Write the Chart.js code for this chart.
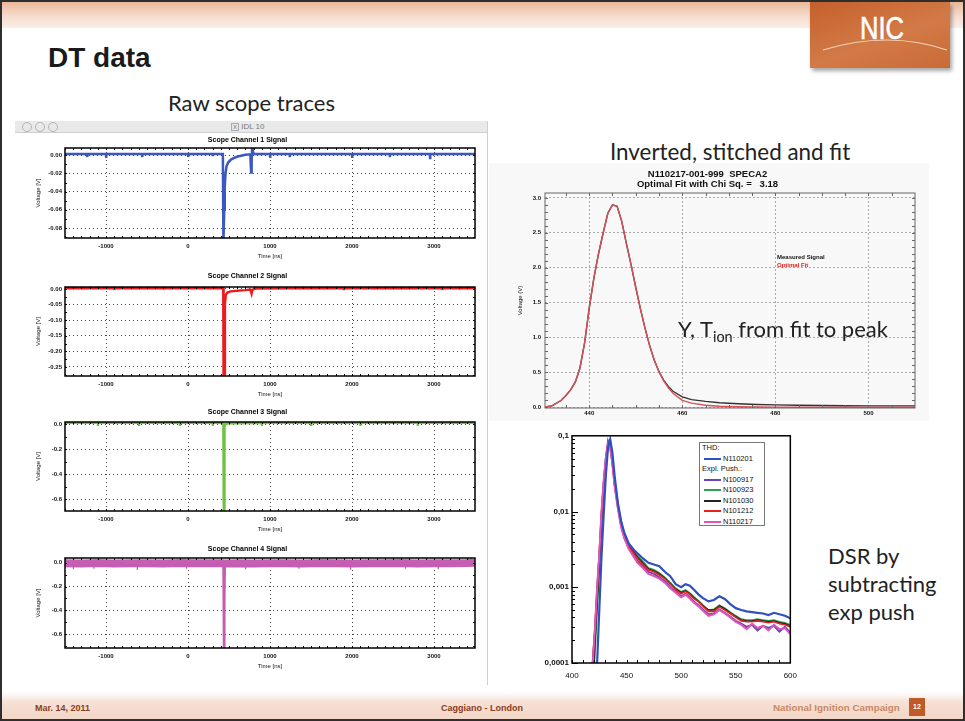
<!DOCTYPE html>
<html>
<head>
<meta charset="utf-8">
<script src="https://cdn.jsdelivr.net/npm/chart.js@4.4.1/dist/chart.umd.min.js"></script>
<style>
  html, body { margin: 0; padding: 0; background: #fff; width: 965px; height: 721px; overflow: hidden; }
  body { position: relative; font-family: "Liberation Sans", Arial, sans-serif; }
  .abs { position: absolute; }
  canvas { position: absolute; }
  .cal { font-family: Lato, "Open Sans", sans-serif; color: #222; white-space: nowrap; }
  .leg { font: 7.5px "Liberation Sans", Arial, sans-serif; color: #111; line-height: 10.5px; }
  .leg span.ln { display: inline-block; width: 17px; height: 2px; vertical-align: middle; margin: 0 2px 0 2px; }
  .foot { font: bold 9px/10px "Liberation Sans", Arial, sans-serif; color: #8a3c20; white-space: nowrap; }
</style>
</head>
<body>
<!-- slide decoration -->
<div class="abs" style="left:0;top:0;width:965px;height:28px;background:linear-gradient(#e8b394,#f6ddcf 60%,#fbeee7)"></div>
<div class="abs" style="left:0;top:692px;width:965px;height:29px;background:linear-gradient(#fff,#f6e0d4 35%,#f2d5c6)"></div>
<div class="abs" style="left:810px;top:2px;width:140px;height:66px;background:linear-gradient(160deg,#c5602b,#d27a47 55%,#c96a36);box-shadow:2px 3px 4px rgba(0,0,0,0.35)">
  <div class="abs" style="left:50px;top:10px;font:32px/32px 'Liberation Sans',Arial;color:#fff;transform:scaleX(0.8);transform-origin:left;-webkit-text-stroke:0.6px #fff">NIC</div>
  <svg class="abs" style="left:0;top:0" width="140" height="66"><path d="M13 48 Q78 28 137 48" stroke="#f6d2b8" stroke-width="1.2" fill="none"/></svg>
</div>

<div class="abs" style="left:48px;top:44px;font:bold 28px/28px 'Liberation Sans',Arial;color:#1a1a1a">DT data</div>
<div class="abs cal" style="left:168px;top:90px;font-size:22px;line-height:26px">Raw scope traces</div>
<div class="abs cal" style="left:610px;top:139px;font-size:22.4px;line-height:26px">Inverted, stitched and fit</div>
<div class="abs cal" style="left:828px;top:542px;font-size:22px;line-height:28px">DSR by<br>subtracting<br>exp push</div>

<!-- IDL window chrome -->
<div class="abs" style="left:15px;top:121px;width:472px;height:11px;background:#e9e9e9;border-bottom:1px solid #cfcfcf"></div>
<div class="abs" style="left:22px;top:122px;width:8px;height:8px;border:1px solid #b5b5b5;border-radius:50%"></div>
<div class="abs" style="left:35px;top:122px;width:8px;height:8px;border:1px solid #b5b5b5;border-radius:50%"></div>
<div class="abs" style="left:48px;top:122px;width:8px;height:8px;border:1px solid #b5b5b5;border-radius:50%"></div>
<div class="abs" style="left:231px;top:121px;font:8px/11px 'Liberation Sans',Arial;color:#777"><span style="border:1px solid #aaa;font-size:6px;padding:0 1px">X</span> IDL 10</div>
<div class="abs" style="left:487px;top:121px;width:1px;height:564px;background:#cfcfcf"></div>

<canvas id="ch1" width="462" height="126" style="left:20px;top:136px"></canvas>
<canvas id="ch2" width="462" height="128" style="left:20px;top:272px"></canvas>
<canvas id="ch3" width="462" height="127" style="left:20px;top:408px"></canvas>
<canvas id="ch4" width="462" height="127" style="left:20px;top:545px"></canvas>

<div class="abs" style="left:489px;top:163px;width:440px;height:258px;background:#f8f8f8"></div>
<canvas id="fit" width="425" height="252" style="left:500px;top:168px"></canvas>
<div class="abs" style="left:777px;top:253px;font:bold 6px/8px 'Liberation Sans',Arial;color:#111">Measured Signal<br><span style="color:#e02020">Optimal Fit</span></div>
<div class="abs cal" style="left:678px;top:316px;font-size:22px;line-height:26px">Y, T<sub style="font-size:14.5px">ion</sub> from fit to peak</div>

<canvas id="dsr" width="280" height="262" style="left:525px;top:428px"></canvas>
<div class="abs leg" style="left:699px;top:442px;width:66px;height:84px;background:#fff;border:1px solid #777;padding-left:2px;box-sizing:border-box">
  THD:<br>
  <span class="ln" style="background:#3050c0"></span>N110201<br>
  Expl. Push.:<br>
  <span class="ln" style="background:#6a44b8"></span>N100917<br>
  <span class="ln" style="background:#2ea050"></span>N100923<br>
  <span class="ln" style="background:#222"></span>N101030<br>
  <span class="ln" style="background:#e82020"></span>N101212<br>
  <span class="ln" style="background:#e055b5"></span>N110217
</div>

<!-- footer -->
<div class="abs foot" style="left:35px;top:703px">Mar. 14, 2011</div>
<div class="abs foot" style="left:441px;top:703px">Caggiano - London</div>
<div class="abs foot" style="left:773px;top:703px;color:#c98a66;font-size:9.8px">National Ignition Campaign</div>
<div class="abs" style="left:909px;top:698px;width:16px;height:18px;background:#c05a28;color:#fff;font:bold 7px/18px 'Liberation Sans',Arial;text-align:center">12</div>

<div class="abs" style="left:0;top:0;width:965px;height:721px;border:2px solid #2e2e2e;box-sizing:border-box;pointer-events:none"></div>

<script>
// ---- scope traces (time in ns, voltage in V) ----
const scopeXTicks = [-1000, 0, 1000, 2000, 3000];

const ch1Time = [-1500, -1230, -1228, -1226, -1000, -998, -996, -560, -558, -556, 0, 2, 4, 300, 302, 304,
  425, 432, 436, 442, 448, 458, 470, 490, 520, 560, 620, 700, 760, 770, 776, 782, 792, 810,
  1000, 1002, 1004, 1240, 1242, 1244, 2000, 2002, 2004, 2460, 2462, 2464, 2950, 2952, 2954, 3500];
const ch1Volt = [0.0015, 0.0015, -0.002, 0.0015, 0.0015, -0.003, 0.0015, 0.0015, -0.002, 0.0015, 0.0015, -0.002, 0.0015, 0.0015, -0.001, 0.0015,
  0.0015, -0.095, -0.095, -0.06, -0.035, -0.02, -0.012, -0.008, -0.005, -0.003, -0.001, 0.0005, 0.001, -0.019, -0.008, 0.009, 0.003, 0.0015,
  0.0015, -0.003, 0.0015, 0.0015, -0.002, 0.0015, 0.0015, -0.003, 0.0015, 0.0015, -0.002, 0.0015, 0.0015, -0.003, 0.0015, 0.0015];
const ch1YTicks = [0, -0.02, -0.04, -0.06, -0.08];

const ch2Time = [-1500, -1300, -1298, -1296, -900, -898, -896, -300, -298, -296, 200, 202, 204,
  430, 434, 444, 450, 460, 480, 520, 600, 700, 760, 775, 785, 820,
  1300, 1302, 1304, 1900, 1902, 1904, 2500, 2502, 2504, 3100, 3102, 3104, 3500];
const ch2Volt = [0.002, 0.002, 0.007, 0.002, 0.002, -0.004, 0.002, 0.002, 0.007, 0.002, 0.002, 0.007, 0.002,
  0.002, -0.29, -0.29, -0.05, -0.02, -0.012, -0.008, -0.006, -0.004, -0.002, -0.015, -0.003, 0.001,
  0.002, 0.007, 0.002, 0.002, -0.004, 0.002, 0.002, 0.007, 0.002, 0.002, -0.004, 0.002, 0.002];
const ch2YTicks = [0, -0.05, -0.10, -0.15, -0.20, -0.25];

const ch3Time = [-1500, -1100, -1098, -1096, -600, -598, -596, -100, -98, -96, 300, 302, 304,
  430, 435, 441, 444, 448, 460, 500, 900, 902, 904, 1500, 1502, 1504, 2100, 2102, 2104, 2800, 2802, 2804, 3500];
const ch3Volt = [0.008, 0.008, -0.015, 0.008, 0.008, -0.015, 0.008, 0.008, -0.015, 0.008, 0.008, -0.015, 0.008,
  0.008, -0.72, -0.72, -0.45, -0.02, 0.0, 0.005, 0.008, -0.015, 0.008, 0.008, -0.015, 0.008, 0.008, -0.015, 0.008, 0.008, -0.015, 0.008, 0.008];
const ch3YTicks = [0, -0.2, -0.4, -0.6];

const ch4Time = [-1500, -1300, -1100, -900, -700, -500, -300, -100, 100, 300, 420, 460, 600, 800, 1000,
  1200, 1400, 1600, 1800, 2000, 2200, 2400, 2600, 2800, 3000, 3200, 3400, 3500];
const ch4Volt = [-0.004, -0.006, -0.003, -0.007, -0.005, -0.004, -0.006, -0.003, -0.005, -0.004, -0.005, -0.006, -0.004, -0.006, -0.005,
  -0.004, -0.006, -0.003, -0.005, -0.006, -0.004, -0.005, -0.003, -0.006, -0.005, -0.004, -0.003, 0.0];
const ch4NoiseTime = [-1400, -1398, -1396, -1150, -1148, -1146, -620, -618, -616, -20, -18, -16, 700, 702, 704,
  1350, 1352, 1354, 1980, 1982, 1984, 2650, 2652, 2654, 3050, 3052, 3054, 3450, 3452, 3454];
const ch4NoiseVolt = [-0.02, -0.055, -0.02, -0.02, -0.05, -0.02, -0.02, -0.06, -0.02, -0.02, -0.05, -0.02, -0.02, -0.055, -0.02,
  -0.02, -0.05, -0.02, -0.02, -0.06, -0.02, -0.02, -0.05, -0.02, -0.02, -0.055, -0.02, 0.01, 0.045, 0.01];
const ch4SpikeTime = [430, 436, 442, 446, 452];
const ch4SpikeVolt = [-0.01, -0.73, -0.73, -0.3, -0.01];
const ch4YTicks = [0, -0.2, -0.4, -0.6];

// ---- fitted spectrum (time in ns, voltage in V) ----
const fitTime = [430, 432, 434, 435, 436, 437, 438, 439, 440, 441, 442, 443, 444, 445, 446, 447, 448, 449, 450,
  451, 452, 453, 454, 455, 456, 457, 458, 460, 462, 465, 468, 472, 476, 480, 485, 490, 495, 500, 505, 510];
const measuredVolt = [0.0, 0.02, 0.1, 0.17, 0.25, 0.36, 0.56, 0.92, 1.42, 1.85, 2.2, 2.5, 2.78, 2.9, 2.88, 2.66, 2.34, 2.04, 1.72,
  1.41, 1.13, 0.88, 0.67, 0.51, 0.39, 0.3, 0.23, 0.15, 0.11, 0.085, 0.065, 0.05, 0.04, 0.035, 0.03, 0.025, 0.022, 0.02, 0.02, 0.02];
const fitVolt = [0.0, 0.02, 0.1, 0.17, 0.25, 0.36, 0.56, 0.92, 1.42, 1.85, 2.2, 2.5, 2.78, 2.9, 2.88, 2.66, 2.34, 2.04, 1.72,
  1.41, 1.13, 0.88, 0.67, 0.51, 0.38, 0.28, 0.2, 0.1, 0.06, 0.03, 0.015, 0.008, 0.004, 0.002, 0.001, 0.0, 0.0, 0.0, 0.0, 0.0];
const fitYTicks = [0, 0.5, 1.0, 1.5, 2.0, 2.5, 3.0];
const fitXTicks = [440, 460, 480, 500];

// ---- DSR comparison, log scale ----
const dsrTime = [417, 419, 421, 423, 425, 427, 429, 431, 433, 435,
  437, 439, 442, 445, 448, 452, 456, 460, 465, 470,
  475, 480, 485, 490, 495, 500, 504, 508, 512, 516,
  520, 525, 530, 535, 540, 545, 550, 555, 560, 565,
  570, 575, 580, 585, 590, 595, 600];
const n110201 = [0.00001, 0.00002, 0.00004, 0.0001, 0.0005, 0.0025, 0.009, 0.03, 0.07, 0.09,
  0.06, 0.03, 0.013, 0.0075, 0.0052, 0.0038, 0.0032, 0.0028, 0.0024, 0.0021,
  0.002, 0.0019, 0.0016, 0.0014, 0.0011, 0.001, 0.0011, 0.00105, 0.00092, 0.0008,
  0.00072, 0.00065, 0.00068, 0.00076, 0.0007, 0.0006, 0.00053, 0.0005, 0.00048, 0.00047,
  0.00046, 0.00045, 0.00043, 0.00046, 0.00044, 0.00042, 0.00039];
const n100917 = [0.00004, 0.0001, 0.00025, 0.0009, 0.0025, 0.009, 0.024, 0.05, 0.085, 0.07,
  0.044, 0.023, 0.0115, 0.0065, 0.0045, 0.0033, 0.0027, 0.0022, 0.0019, 0.0016,
  0.0015, 0.00135, 0.0012, 0.001, 0.00088, 0.00076, 0.00082, 0.00074, 0.00064, 0.00058,
  0.00051, 0.00044, 0.00045, 0.00051, 0.00046, 0.00041, 0.00036, 0.00033, 0.0003, 0.00032,
  0.00027, 0.00031, 0.00029, 0.00031, 0.00026, 0.0003, 0.00025];
const n100923 = [0.00002, 0.00005, 0.00013, 0.0005, 0.0017, 0.006, 0.018, 0.042, 0.07, 0.08,
  0.052, 0.027, 0.013, 0.0074, 0.005, 0.0037, 0.0031, 0.0026, 0.0022, 0.0018,
  0.0017, 0.00155, 0.00135, 0.00115, 0.00097, 0.00087, 0.00092, 0.00084, 0.00074, 0.00066,
  0.00058, 0.0005, 0.00051, 0.00058, 0.00053, 0.00047, 0.00042, 0.00038, 0.00037, 0.00037,
  0.00038, 0.00037, 0.00036, 0.00037, 0.00035, 0.00034, 0.00032];
const n101030 = [0.00003, 0.00006, 0.00018, 0.0006, 0.002, 0.007, 0.02, 0.045, 0.075, 0.078,
  0.05, 0.026, 0.0125, 0.007, 0.0048, 0.0036, 0.003, 0.0025, 0.0021, 0.00175,
  0.00165, 0.0015, 0.00132, 0.00112, 0.00095, 0.00085, 0.0009, 0.00082, 0.00072, 0.00065,
  0.00057, 0.0005, 0.0005, 0.00057, 0.00052, 0.00046, 0.00041, 0.00037, 0.00036, 0.00036,
  0.00037, 0.00036, 0.00035, 0.00036, 0.00034, 0.00033, 0.00031];
const n101212 = [0.00005, 0.00011, 0.0003, 0.0009, 0.0028, 0.009, 0.024, 0.05, 0.08, 0.075,
  0.045, 0.024, 0.012, 0.0068, 0.0047, 0.0035, 0.0029, 0.0024, 0.002, 0.0017,
  0.0016, 0.00145, 0.0013, 0.0011, 0.00093, 0.00082, 0.00088, 0.0008, 0.0007, 0.00064,
  0.00056, 0.00048, 0.00048, 0.00055, 0.0005, 0.00045, 0.0004, 0.00036, 0.00035, 0.00035,
  0.00036, 0.00035, 0.00034, 0.00035, 0.00033, 0.00032, 0.0003];
const n110217 = [0.00004, 0.0001, 0.00028, 0.001, 0.0027, 0.01, 0.025, 0.052, 0.078, 0.07,
  0.043, 0.022, 0.011, 0.0062, 0.0044, 0.0032, 0.0026, 0.0021, 0.0018, 0.0015,
  0.0014, 0.0013, 0.00115, 0.00097, 0.00085, 0.00074, 0.0008, 0.00071, 0.00062, 0.00056,
  0.00049, 0.00042, 0.00044, 0.0005, 0.00045, 0.0004, 0.00035, 0.00032, 0.00028, 0.00033,
  0.00029, 0.00031, 0.00027, 0.00032, 0.00028, 0.00029, 0.00024];
const dsrYTicks = [0.0001, 0.001, 0.01, 0.1];
const dsrYLabels = ['0,0001', '0,001', '0,01', '0,1'];
const dsrXTicks = [400, 450, 500, 550, 600];

Chart.defaults.font.family = '"Liberation Sans", Arial, sans-serif';
Chart.defaults.color = '#111';
Chart.defaults.animation = false;

const toXY = (xs, ys) => xs.map((x, i) => ({ x, y: ys[i] }));
const tickList = arr => s => { s.ticks = arr.map(v => ({ value: v })); };

// IDL-style box around the plot with small inward ticks
const framePlugin = {
  id: 'frame',
  defaults: { width: 1.5, color: '#000', xMinor: 0, yMinor: 0, logMinor: false, len: 3, mirror: true },
  afterDatasetsDraw(chart, args, o) {
    const { ctx, chartArea: a } = chart;
    const x = chart.scales.x, y = chart.scales.y;
    ctx.save();
    ctx.strokeStyle = o.color;
    ctx.lineWidth = 1;
    ctx.beginPath();
    if (o.xMinor) {
      for (let v = Math.ceil(x.min / o.xMinor) * o.xMinor; v < x.max; v += o.xMinor) {
        const p = Math.round(x.getPixelForValue(v)) + 0.5;
        ctx.moveTo(p, a.bottom); ctx.lineTo(p, a.bottom - o.len);
        if (o.mirror) { ctx.moveTo(p, a.top); ctx.lineTo(p, a.top + o.len); }
      }
    }
    if (o.yMinor) {
      for (let v = Math.ceil(y.min / o.yMinor) * o.yMinor; v < y.max; v += o.yMinor) {
        const p = Math.round(y.getPixelForValue(v)) + 0.5;
        ctx.moveTo(a.left, p); ctx.lineTo(a.left + o.len, p);
        if (o.mirror) { ctx.moveTo(a.right, p); ctx.lineTo(a.right - o.len, p); }
      }
    }
    if (o.logMinor) {
      for (let d = 0.0001; d < 0.1; d *= 10) {
        for (let k = 1; k <= 9; k++) {
          const p = Math.round(y.getPixelForValue(d * k)) + 0.5;
          const len = k === 1 ? 6 : 3;
          ctx.moveTo(a.left, p); ctx.lineTo(a.left + len, p);
        }
      }
    }
    ctx.stroke();
    ctx.lineWidth = o.width;
    ctx.strokeRect(a.left, a.top, a.right - a.left, a.bottom - a.top);
    ctx.restore();
  }
};
Chart.register(framePlugin);

function scopeOptions(title, titlePad, yMin, yMax, yTicks, digits, yMinor) {
  return {
    responsive: false,
    animation: false,
    layout: { padding: { left: 0, right: 7, top: 0, bottom: 0 } },
    plugins: {
      legend: { display: false },
      tooltip: { enabled: false },
      title: { display: true, text: title, color: '#000', font: { size: 7, weight: 'bold' }, padding: { top: 0, bottom: titlePad } },
      frame: { xMinor: 100, yMinor: yMinor, len: 2, width: 1.5 },
    },
    scales: {
      x: {
        type: 'linear', min: -1500, max: 3500,
        afterBuildTicks: tickList(scopeXTicks),
        afterFit: s => { s.height = 24; },
        ticks: { font: { size: 6, weight: 'bold' }, padding: 5, autoSkip: false, maxRotation: 0, callback: v => String(v) },
        grid: { color: '#444', drawTicks: false },
        border: { display: false, dash: [1, 3] },
        title: { display: true, text: 'Time [ns]', font: { size: 6 }, padding: { top: 0, bottom: 2 } },
      },
      y: {
        type: 'linear', min: yMin, max: yMax,
        afterBuildTicks: tickList(yTicks),
        afterFit: s => { s.width = 45; },
        ticks: { font: { size: 6, weight: 'bold' }, padding: 3, autoSkip: false, callback: v => v.toFixed(digits) },
        grid: { color: '#444', drawTicks: false },
        border: { display: false, dash: [1, 3] },
        title: { display: true, text: 'Voltage [V]', font: { size: 6 }, padding: { top: 15, bottom: 0 } },
      },
    },
  };
}

function trace(xs, ys, color, width) {
  return { data: toXY(xs, ys), borderColor: color, borderWidth: width, pointRadius: 0, showLine: true, tension: 0, fill: false };
}

new Chart(document.getElementById('ch1'), {
  type: 'scatter',
  data: { datasets: [trace(ch1Time, ch1Volt, '#3a58c0', 2.5)] },
  options: scopeOptions('Scope Channel 1 Signal', 3.6, -0.091, 0.008, ch1YTicks, 2, 0.01),
});
new Chart(document.getElementById('ch2'), {
  type: 'scatter',
  data: { datasets: [trace(ch2Time, ch2Volt, '#ea1c1c', 2.5)] },
  options: scopeOptions('Scope Channel 2 Signal', 6.6, -0.279, 0.006, ch2YTicks, 2, 0.025),
});
new Chart(document.getElementById('ch3'), {
  type: 'scatter',
  data: { datasets: [trace(ch3Time, ch3Volt, '#6cc33e', 2.2)] },
  options: scopeOptions('Scope Channel 3 Signal', 5.6, -0.696, 0.016, ch3YTicks, 1, 0.1),
});
new Chart(document.getElementById('ch4'), {
  type: 'scatter',
  data: { datasets: [
    trace(ch4SpikeTime, ch4SpikeVolt, '#c45cb0', 2),
    trace(ch4NoiseTime, ch4NoiseVolt, '#c45cb0', 1.2),
    trace(ch4Time, ch4Volt, '#c65fb3', 8),
  ] },
  options: scopeOptions('Scope Channel 4 Signal', 4.6, -0.717, 0.04, ch4YTicks, 1, 0.1),
});

// inverted, stitched and fit
new Chart(document.getElementById('fit'), {
  type: 'scatter',
  data: { datasets: [
    trace(fitTime, fitVolt, '#d9505a', 1.4),
    trace(fitTime, measuredVolt, '#333', 1.4),
  ] },
  options: {
    responsive: false,
    animation: false,
    layout: { padding: { left: 0, right: 10, top: 0, bottom: 0 } },
    plugins: {
      legend: { display: false },
      tooltip: { enabled: false },
      title: { display: true, text: ['N110217-001-999  SPECA2', 'Optimal Fit with Chi Sq. =   3.18'], color: '#111',
        font: { size: 9.5, weight: 'bold', lineHeight: 1.0 }, padding: { top: 2, bottom: 4 } },
      frame: { xMinor: 5, yMinor: 0.1, len: 3, width: 1, color: '#666' },
    },
    scales: {
      x: {
        type: 'linear', min: 430.5, max: 510,
        afterBuildTicks: tickList(fitXTicks),
        afterFit: s => { s.height = 12; },
        ticks: { font: { size: 6, weight: 'bold' }, padding: 2, autoSkip: false, maxRotation: 0, callback: v => String(v) },
        grid: { color: '#aaa', drawTicks: false },
        border: { display: false, dash: [2, 2] },
      },
      y: {
        type: 'linear', min: -0.01, max: 3.07,
        afterBuildTicks: tickList(fitYTicks),
        afterFit: s => { s.width = 45; },
        ticks: { font: { size: 6, weight: 'bold' }, padding: 4, autoSkip: false, callback: v => v.toFixed(1) },
        grid: { color: '#aaa', drawTicks: false },
        border: { display: false, dash: [2, 2] },
        title: { display: true, text: 'Voltage (V)', font: { size: 6 }, padding: { top: 17, bottom: 0 } },
      },
    },
  },
});

// DSR comparison
new Chart(document.getElementById('dsr'), {
  type: 'scatter',
  data: { datasets: [
    trace(dsrTime, n110201, '#3050c0', 2.2),
    trace(dsrTime, n110217, '#e055b5', 2),
    trace(dsrTime, n101212, '#e82020', 1.6),
    trace(dsrTime, n101030, '#222', 1.4),
    trace(dsrTime, n100923, '#2ea050', 1.6),
    trace(dsrTime, n100917, '#6a44b8', 2),
  ] },
  options: {
    responsive: false,
    animation: false,
    layout: { padding: { left: 0, right: 7, top: 7, bottom: 0 } },
    plugins: {
      legend: { display: false },
      tooltip: { enabled: false },
      frame: { logMinor: true, xMinor: 10, len: 3, width: 1.5, mirror: false },
    },
    scales: {
      x: {
        type: 'linear', min: 400, max: 600,
        afterBuildTicks: tickList(dsrXTicks),
        afterFit: s => { s.height = 27; },
        ticks: { font: { size: 8 }, padding: 8, autoSkip: false, maxRotation: 0, callback: v => String(v) },
        grid: { display: false, drawTicks: false },
        border: { display: false },
      },
      y: {
        type: 'logarithmic', min: 0.0001, max: 0.1,
        afterBuildTicks: tickList(dsrYTicks),
        afterFit: s => { s.width = 47; },
        ticks: { font: { size: 8, weight: 'bold' }, padding: 3, autoSkip: false,
          callback: (v, i) => dsrYLabels[i] },
        grid: { display: false, drawTicks: false },
        border: { display: false },
      },
    },
  },
});
</script>
</body>
</html>
